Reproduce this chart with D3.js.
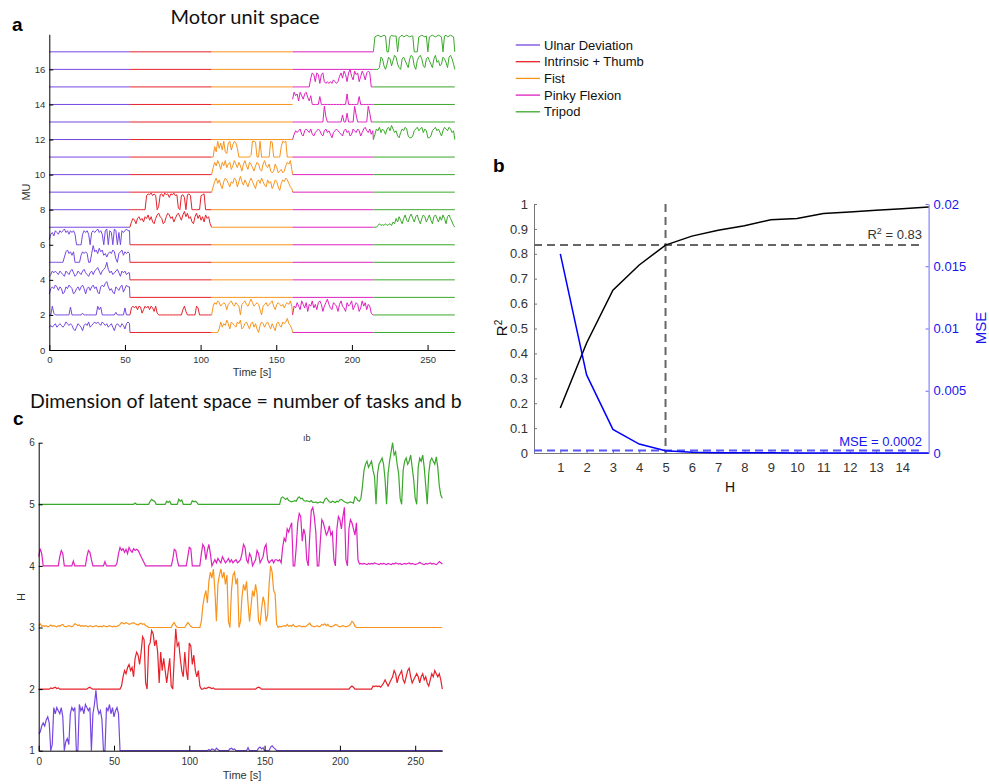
<!DOCTYPE html>
<html><head><meta charset="utf-8">
<script src="https://cdn.jsdelivr.net/npm/d3@7"></script>
<style>
body{margin:0;background:#fff;}
svg{display:block;font-family:"Liberation Sans",Arial,sans-serif;}
</style></head><body>
<svg id="fig" width="989" height="784"></svg>
<script>
// ---------- data ----------
var taskNames = ["Ulnar Deviation","Intrinsic + Thumb","Fist","Pinky Flexion","Tripod"];
var taskColors = ["#7648e0","#e6222b","#f7941d","#dd22c0","#3aa82a"];
var taskEdges = [0, 53.3, 107.3, 160.8, 214.2, 268];   // seconds
var muCount = 17;

// panel a: activity above each MU baseline, 1 s steps from the task start
var mu1U = [.3,.4,.3,.4,.5,.3,.4,.5,.4,.3,.4,.6,.5,.4,.5,.4,.2,.1,.3,.5,.4,.3,.1,.4,.5,.4,.6,.3,.4,.5,.6,.5,.6,.5,.4,.6,.5,.4,.5,.3,.4,.5,.3,.1,.4,.5,.4,.3,.5,.4,.2,.5,.6,.5];
var mu2U = [0,0,.5,.1,0,0,0,0,0,0,0,0,0,0,.45,0,0,0,0,0,0,0,.1,0,0,0,0,0,0,0,0,0,.5,.3,.45,0,0,0,0,0,0,0,0,0,.15,0,0,0,0,0,.4,0,0,0];
var mu3U = [.2,.5,.6,.5,.7,.6,.4,.6,.5,.2,.3,.6,.5,.7,.6,.5,.2,.3,.5,.6,.4,.6,.7,.5,.2,.5,.6,.4,.6,.7,.5,.6,.3,.2,.6,.7,.6,.8,.9,.6,.4,.5,.3,.2,.6,.5,.4,.6,.7,.3,.5,.7,.6,.6];
var mu4U = [.2,.3,.5,.4,.5,.4,.3,.5,.4,.3,.2,.5,.4,.3,.5,.6,.4,.2,.3,.5,.4,.3,.5,.6,.4,.3,.2,.4,.5,.3,.5,.6,.7,.5,.3,.5,.6,.7,1,.6,.4,.5,.3,.4,.5,.6,.4,.2,.5,.4,.5,.3,.4,.4];
var mu5U = [0,0,0,0,0,0,0,0,0,0,.3,.6,.7,.5,.6,.4,.6,0,0,0,0,.4,.6,.5,.6,.5,0,0,.5,.95,.6,.7,.5,.8,.6,.7,.4,.5,.3,.5,.6,.5,.7,.6,.2,0,.5,.6,.7,.4,.6,.5,.6,.5];
var mu6U = [.3,.6,.7,.5,.8,.7,.6,.8,.7,.8,.9,.7,.8,.6,.8,.7,.8,.6,0,0,0,0,.6,.8,.7,.8,.6,0,.7,.8,.7,.8,.9,.7,.8,.6,0,.8,.9,0,.8,.7,0,.9,.8,0,.7,0,.8,.7,.8,.9,.8,.8];
var mu2I = [0,.4,.5,.4,.5,.3,.5,.45,.1,.3,.5,.4,.5,.3,.5,.4,.2,.5,.1,0,0,0,0,0,0,0,0,0,0,0,0,0,0,0,0,.3,.5,.2,0,0,0,0,0,0,.5,.4,0,0,0,0,0,0,0,0];
var mu7I = [0,.3,.5,.4,.2,.5,.6,.4,.5,.3,.6,.5,.7,.4,.6,.3,.2,.5,.7,.8,.6,.5,.2,.3,.6,.8,.7,.5,.6,.3,.5,.7,.8,.6,.4,.7,.9,.6,.8,.5,.6,.3,.2,.6,.8,.5,.7,.4,.6,.3,.7,.5,.6,.2];
var mu8I = [0,0,0,0,0,0,0,0,0,0,0,.8,.9,.85,.95,.8,.9,.8,0,.2,.85,.9,.75,.95,.85,.9,.7,.9,.85,.95,.8,.85,.1,0,.8,.85,.7,0,.85,.9,.8,0,0,0,0,0,0,.8,.85,.9,0];
var mu1F = [0,0,0,0,0,.2,.6,.3,.5,.4,.7,.5,.2,.6,.5,.4,.3,.6,.5,.7,.2,.3,.5,.6,.4,.2,.5,.6,.3,.5,.2,0,.4,.6,.5,.3,.5,.6,.4,.2,.5,.3,.1,.5,.6,.4,.3,.6,.5,.6,.8,.5,.4,.2];
var mu2F = [0,.5,.7,.6,.8,.7,.5,.6,.7,.6,.3,.6,.7,.8,.6,.5,.7,.6,.5,0,.6,.7,.8,.6,.5,.7,.9,.7,.5,.6,.7,.6,.3,0,.5,.6,.7,.5,.6,.7,.8,.5,.3,.6,.7,.6,.5,.6,.4,.6,.7,.6,.8,.5];
var mu9F = [0,.3,.6,.8,.5,.7,.4,.2,.6,.8,.7,.5,.3,.6,.5,.8,.7,.3,.6,.9,.6,.4,.7,.5,.3,.6,.8,.6,.4,.2,.6,.7,.5,.8,.6,.4,.3,.7,.5,.6,.2,.4,.7,.6,.3,.1,.5,.7,.6,.8,.7,.5,.3,.2];
var mu10F = [0,.4,.7,.5,.8,.6,.3,.7,.5,.8,.4,.6,.7,.3,.5,.8,.6,.4,.7,.5,.2,.6,.8,.5,.3,.7,.6,.4,.2,.5,.7,.6,.3,.2,.6,.8,.5,.4,.6,.2,.1,.2,.6,.4,.1,.2,.3,.1,.2,.5,.7,.6,.8,.3];
var mu11F = [0,0,.6,.3,.9,.5,.8,.4,.9,.3,.2,.8,.9,.4,.7,.9,.8,.5,0,0,0,0,0,0,0,0,.1,.9,.9,.85,0,0,.9,0,0,0,0,0,0,.9,.85,0,0,0,0,0,.6,.9,.85,.9,0,0,0,0];
var mu2P = [0,.5,.4,.7,.5,.3,.8,.6,.4,.7,.2,.6,.5,.8,.4,.6,.3,.7,.8,.6,.2,.5,.7,.9,.6,.4,.3,.7,.6,.5,.2,.6,.8,.5,.4,.2,.7,.5,.6,.8,.3,.5,.7,.6,.2,.4,.8,.5,.7,.3,.6,.5,.1,0];
var mu12P = [0,.3,.5,.4,.5,.6,.3,.2,.5,.6,.5,.4,.6,.3,.2,.4,.5,.6,.5,.3,.2,.5,.6,.4,.5,.3,.1,.4,.5,.6,.5,.4,.3,.2,.5,.6,.4,.5,.2,.3,.6,.5,.4,.6,.5,.2,.4,.6,.7,.5,.4,.6,.3,.5];
var mu13P = [0,0,0,0,0,0,0,0,0,0,0,0,0,0,0,0,0,0,0,0,0,.9,.3,0,0,0,0,0,0,0,0,0,0,.4,0,0,.5,0,0,0,0,.9,.4,0,0,0,0,0,0,0,.9,.5,0,0];
var mu14P = [.3,.7,.5,.6,.2,.7,.5,.3,.6,.7,.4,.2,.5,0,0,0,0,0,.45,0,0,0,0,0,0,0,0,0,0,0,0,0,0,0,0,0,.6,0,0,0,0,0,0,0,.45,0,0,0,0,0,0,0,0,0];
var mu15P = [0,0,0,0,0,0,0,0,0,0,0,0,.5,.8,.7,.3,.8,.7,.2,.7,.8,.3,.2,.3,.2,.3,.2,.4,.3,.2,.3,.6,.8,.5,.9,.7,.3,.8,1,.6,.4,.9,.7,.8,.3,.6,.9,.7,.4,.8,.9,.8,0,0];
var mu7T = [0,0,0,.1,.2,.1,.15,.1,.2,.1,.15,.2,.1,.3,.2,.5,.3,.6,.4,.2,.5,.7,.4,.3,.6,.75,.5,.3,.6,.7,.4,.2,.5,.7,.6,.3,.5,.7,.4,.2,.6,.7,.5,.3,.6,.4,.7,.5,.2,.6,.7,.5,.3,.1];
var mu12T = [0,.3,.6,.5,.7,.4,.6,.5,.3,.6,.7,.5,.8,.6,.4,.5,.2,.1,.4,.6,.5,.7,.6,.2,.1,.1,.2,.5,.6,.7,.5,.6,.7,.4,.6,.5,.1,.1,.2,.5,.6,.7,.5,.6,.4,.2,.5,.7,.6,.5,.7,.6,.4,.5];
var mu16T = [0,0,0,0,.1,.7,.6,.2,0,.3,.7,.6,.2,.5,.8,.7,.3,.1,0,.6,.7,.5,.3,.1,.6,.8,.7,.2,0,.5,.7,.8,.6,.2,.1,.6,.7,.5,.3,.1,.6,.8,.4,.5,.2,.3,.7,.6,.4,.1,.7,.8,.6,.3];
var mu17T = [0,.85,.9,.95,.9,.85,.9,.95,.9,0,0,.85,.95,.9,.9,.9,0,.8,.9,.95,.85,.9,.95,.9,.85,.9,.9,0,0,0,.85,.9,.95,.9,.85,.9,0,.85,.9,.95,.9,.85,.9,.95,.9,.85,0,.9,.95,.85,.9,.95,.9,.85];

// [MU, task index, activity]
var muActivity = [
  [1,0,mu1U],[2,0,mu2U],[3,0,mu3U],[4,0,mu4U],[5,0,mu5U],[6,0,mu6U],
  [2,1,mu2I],[7,1,mu7I],[8,1,mu8I],
  [1,2,mu1F],[2,2,mu2F],[9,2,mu9F],[10,2,mu10F],[11,2,mu11F],
  [2,3,mu2P],[12,3,mu12P],[13,3,mu13P],[14,3,mu14P],[15,3,mu15P],
  [7,4,mu7T],[12,4,mu12T],[16,4,mu16T],[17,4,mu17T]
];

// panel b
var hValues = [1,2,3,4,5,6,7,8,9,10,11,12,13,14,15];
var r2Values = [0.181,0.442,0.654,0.755,0.835,0.871,0.895,0.913,0.937,0.942,0.962,0.968,0.975,0.981,0.988];
var mseValues = [0.0160,0.00627,0.0019,0.00072,0.00018,0.00006,0.00003,0.00002,0.00002,0.00001,0.00001,0.00001,0.00001,0.00001,0.00001];
var hChosen = 5, r2Thresh = 0.835, mseThresh = 0.0002;
var r2Label = "0.83", mseLabel = "0.0002";

// panel c: latent activations, [start s, values at 1 s steps] above each baseline
var h1Pieces = [
  [0,[.28,.3,.4,.45,.4,.5,.55,.45,0,.1,.7,.6,.7,.65,.6,.7,.55,0,.15,.2,.1,.6,.7,.65,.7,0,0,.75,.65,.7,.6,.75,.7,.65,.7,0,.6,.75,.98,.7,.6,.65,.5,0,0,.7,.65,.75,.6,.7,.55,.65,.7,.6]],
  [113,[.02,0,.03,.02,0,.04,.02,0,0,0,0,0,0,0,.03,.04,.02,.03,0,0,0,0,0,0,0,0,.05,0,0,0,0,0,0,.04,.06,.03,.05,0,0,0,0,.06,.08,.05,.03,0]]
];
var h2Pieces = [
  [8,[.02,.01,.02,.03,.01,.02,0]],[33,[.02,.03,.01,0]],
  [55,[.05,.2,.3,.25,.35,.4,.3,.35,.2,.5,.6,.55,.4,.6,.85,.8,.1,0,.7,.75,.95,.9,.7,.8,.6,.1,.6,.3,.5,.3,.1,.3,.5,.05,0,.5,.98,.7,.75,.5,.3,.2,.6,.3,.15,.75,.7,.4,.55,.3,.2,.3,.05]],
  [110,[.02,.01,.02,.03,.02,.01,.02,0]],[145,[.02,.03,.02,0]],[207,[.03,.05,.03,0]],
  [222,[.05,.04,.05,.04,.05,.03,.06,.1,.15,.1,.05,.1,.15,.2,.3,.25,.1,.2,.25,.3,.15,.1,.2,.3,.34,.2,.1,.15,.2,.25,.2,.1,.2,.25,.15,.2,.1,.05,.15,.25,.2,.3,.25,.2,.25,.15,0]]
];
var h3Pieces = [
  [0,[.03,.06,.02,.03,.02,.03,.01,.02,.04,.02,.03,.02,.01,.03,.02,.04,.05,.02,.01,.02,.03,.02,.01,.03,.06,.05,.03,.04,.02,.03,.02,.03,.02,.01,.03,.02,.01,.02,.03,.02,.01,.02,.01,.03,.02,.01,.02,.03,.02,.01,.02,.01,.02,.03,.05,.08,.07,.06,.08,.07,.05,.06,.07,.08,.06,.05,.04,.06,.07,.05,.06,.03,.02,0]],
  [89,[.05,.08,.03,0]],[98,[.04,.08,.05,.02,0]],
  [108,[.1,.35,.5,.6,.4,.75,.9,.8,.95,.6,.1,.7,.85,.95,.8,.9,.7,.85,.1,0,.6,.85,.9,.7,.8,0,.1,.5,.7,.6,.75,.4,.1,.35,.6,.5,.7,.55,.1,.05,.3,.5,.4,.1,.2,.7,1,.9,.6,.55,.05]],
  [160,[.02,.01,.02,.03,.02,.05,.02,.03,.02,.05,.02,.01,.02,.03,.02,.01,.02,.01,.03,.05,.07,.03,.02,.01,.02,.03,.01,.02,.05,.04,.06,.03,.05,.02,.01,.02,.03,.05,.04,.02,.01,.02,.03,.02,.01,.02,.03,.05,.1,.08,.02,0]]
];
var h4Pieces = [
  [0,[.15,.28,.2,0,0,0,0,0,0,0,0,0,0,0,.15,.25,.2,0,0,0,0,0,0,.08,0,0,0,0,0,0,0,0,.15,.25,.22,.1,0,0,0,0,0,0,0,0,.07,0,0,0,0,0,0,0,.05,.2,.3,.25,.28,.22,.27,.2,.3,.25,.22,.28,.25,.27,.25,.2,.15,.1,.05,0]],
  [89,[.1,.27,.25,.1,0]],[99,[.15,.3,.28,0]],
  [107,[0,.2,.35,.3,.1,.25,.35,.2,0,.05,.1,.05,.12,.08,.05,.15,.1,.05,.08,.12,.06,.1,.05,.08,.1,.05,.07,.1,.2,.35,.3,.1,.05,.2,.15,0,.05,.1,.25,.2,.05,.1,.15,.3,.35,.1,.05,.08,.1,.05,.1]],
  [158,[.1,.08,.1,.05,.3,.45,.4,.6,.55,.63,.7,0,0,.3,.7,.85,.8,.4,.6,.5,.1,0,.5,.9,.95,.8,.55,0,0,.4,.75,.7,.6,.5,.55,.65,.5,.55,.1,0,.6,.8,.75,.6,.8,.95,.1,0,.6,.75,.7,.6,.5,.7,.1,.03]],
  [214,[.04,.03,.04,.03,.02,.04,.03,.04,.03,.05,.04,.03,.02,.04,.03,.04,.03,.02,.04,.03,.02,.04,.03,.05,.04,.03,.04,.02,.03,.04,.03,.04,.05,.03,.04,.03,.02,.03,.04,.06,.04,.03,.02,.04,.03,.04,.05,.03,.04,.03,.02,.04,.07,.05,.03]]
];
var h5Pieces = [
  [64,[.02,0]],[74,[.05,.08,.06,.05,0]],[85,[.05,.03,.05,0]],[93,[.08,.05,.07,0]],[102,[.06,.04,.05,.03,0]],
  [161,[.1,.12,.1,.08,.1,.06,.05,.04,.05,.06,.05,.1,.12,.09,.1,.06,.05,.06,.05,.04,.06,.03,.03,.04,.02,.03,.04,.03,.02,.08,.1,.07,.04,.03,.05,.04,.03,.05,.04,.07,.08,.06,.04,.03,.02,.03,.04,.03,.02,.12,.1,.06,.05,.1]],
  [215,[.3,.55,.65,.7,.6,.65,.7,.55,.45,0,.5,.65,.7,.75,.65,.4,0,.5,.7,.85,1,.8,.85,.65,.5,.1,0,.55,.7,.75,.65,.7,.8,.6,.4,.1,0,.6,.75,.7,.8,.6,.3,0,.5,.7,.75,.7,.65,.77,.6,.3,.15,.1]]
];
var latentPieces = [h1Pieces,h2Pieces,h3Pieces,h4Pieces,h5Pieces];

// ---------- drawing ----------
var svg = d3.select('#fig');
var textCol = '#333';

function label(g,x,y,txt,size,opts){
  opts = opts||{};
  var t = g.append('text').attr('x',x).attr('y',y).text(txt)
     .style('font-size',size+'px').attr('fill',opts.fill||textCol);
  if(opts.anchor) t.attr('text-anchor',opts.anchor);
  if(opts.weight) t.style('font-weight',opts.weight);
  if(opts.family) t.style('font-family',opts.family);
  if(opts.rotate) t.attr('transform','rotate(-90,'+x+','+y+')');
  return t;
}

function styleAxis(g,col,size){
  g.select('.domain').attr('stroke',col);
  g.selectAll('.tick line').attr('stroke',col);
  g.selectAll('.tick text').attr('fill',textCol).style('font-size',size+'px').style('font-family','"Liberation Sans",Arial,sans-serif');
}

// ---- panel a
var ax = d3.scaleLinear().domain([0,268]).range([49.3,454.8]);
var ay = d3.scaleLinear().domain([0,18]).range([350,34.3]);
var pa = svg.append('g').attr('class','panel-a');
var lineA = d3.line().x(function(d){return ax(d[0])}).y(function(d){return ay(d[1])});

for(var mu=1; mu<=muCount; mu++){
  for(var k=0;k<5;k++){
    var act = muActivity.find(function(a){return a[0]===mu && a[1]===k});
    var t0 = taskEdges[k], t1 = taskEdges[k+1], pts;
    if(act){
      pts = act[2].map(function(v,i){return [t0+i, mu+v]}).filter(function(p){return p[0]<t1});
      pts.push([t1, mu]);
    } else {
      pts = [[t0,mu],[t1,mu]];
    }
    pa.append('path').attr('d',lineA(pts)).attr('fill','none')
      .attr('stroke',taskColors[k]).attr('stroke-width',1);
  }
}

var aAxX = pa.append('g').attr('transform','translate(0,350)')
   .call(d3.axisBottom(ax).tickValues([0,50,100,150,200,250]).tickSizeInner(-5).tickSizeOuter(0).tickPadding(6));
styleAxis(aAxX,'#000',9.5);
var aAxY = pa.append('g').attr('transform','translate(49.3,0)')
   .call(d3.axisLeft(ay).tickValues([0,2,4,6,8,10,12,14,16]).tickSizeInner(-4).tickSizeOuter(0).tickPadding(4));
styleAxis(aAxY,'#000',9.5);
label(pa,252,376,'Time [s]',11,{anchor:'middle'});
label(pa,30,192,'MU',11,{anchor:'middle',rotate:true});
label(svg,245,24,'Motor unit space',20,{anchor:'middle',family:'Lato, "Open Sans", sans-serif',fill:'#111'});
label(svg,12,31,'a',19,{weight:'bold',fill:'#000'});

// legend
var leg = svg.append('g').attr('class','legend');
taskNames.forEach(function(n,i){
  var yy = 45 + i*16.7;
  leg.append('line').attr('x1',515.7).attr('x2',540).attr('y1',yy).attr('y2',yy)
     .attr('stroke',taskColors[i]).attr('stroke-width',1.3);
  label(leg,544,yy+4.6,n,13,{fill:'#111'});
});

// ---- panel b
var bx = d3.scaleLinear().domain([0,15]).range([534,928.6]);
var byL = d3.scaleLinear().domain([0,1]).range([453,204]);
var byR = d3.scaleLinear().domain([0,0.02]).range([453,204]);
var pb = svg.append('g').attr('class','panel-b');

var bAxX = pb.append('g').attr('transform','translate(0,453)')
   .call(d3.axisBottom(bx).tickValues(d3.range(1,15)).tickSizeInner(-3).tickSizeOuter(0).tickPadding(10));
styleAxis(bAxX,'#777',13);
var bAxL = pb.append('g').attr('transform','translate(534,0)')
   .call(d3.axisLeft(byL).tickValues(d3.range(0,11).map(function(d){return d/10}))
     .tickFormat(function(d){return String(+d.toFixed(1))}).tickSizeInner(-3).tickSizeOuter(0).tickPadding(6));
styleAxis(bAxL,'#777',13);
var bAxR = pb.append('g').attr('transform','translate(928.6,0)')
   .call(d3.axisRight(byR).tickValues([0,0.005,0.01,0.015,0.02])
     .tickFormat(function(d){return String(+d.toFixed(3))}).tickSizeInner(-3).tickSizeOuter(0).tickPadding(5));
styleAxis(bAxR,'#6a6aff',13);
bAxR.selectAll('.tick text').attr('fill','#1515f0');

// dashed guides
pb.append('line').attr('x1',bx(0)).attr('x2',bx(14.75)).attr('y1',byL(r2Thresh)).attr('y2',byL(r2Thresh))
  .attr('stroke','#666').attr('stroke-width',2).attr('stroke-dasharray','8,5');
pb.append('line').attr('x1',bx(hChosen)).attr('x2',bx(hChosen)).attr('y1',byL(1)).attr('y2',byL(0))
  .attr('stroke','#666').attr('stroke-width',2).attr('stroke-dasharray','8,5');
pb.append('line').attr('x1',bx(0)).attr('x2',bx(14.75)).attr('y1',byR(mseThresh)).attr('y2',byR(mseThresh))
  .attr('stroke','#5656f2').attr('stroke-width',2).attr('stroke-dasharray','8,5');

var r2Line = d3.line().x(function(d,i){return bx(hValues[i])}).y(function(d){return byL(d)});
var mseLine = d3.line().x(function(d,i){return bx(hValues[i])}).y(function(d){return byR(d)});
pb.append('path').attr('d',r2Line(r2Values)).attr('fill','none').attr('stroke','#000').attr('stroke-width',1.5);
pb.append('path').attr('d',mseLine(mseValues)).attr('fill','none').attr('stroke','#0000ff').attr('stroke-width',1.5);

var r2t = label(pb,922,239,'R',13,{anchor:'end',fill:'#333'});
r2t.append('tspan').attr('baseline-shift','super').style('font-size','9px').text('2');
r2t.append('tspan').text(' = '+r2Label);
label(pb,922,446,'MSE = '+mseLabel,13,{anchor:'end',fill:'#1515f0'});

var r2ax = label(pb,507,328,'R',15,{anchor:'middle',rotate:true,fill:'#111'});
r2ax.append('tspan').attr('baseline-shift','super').style('font-size','10px').text('2');
label(pb,986,328,'MSE',15,{anchor:'middle',rotate:true,fill:'#1515f0'});
label(pb,730,492,'H',14,{anchor:'middle',fill:'#111'});
label(svg,493,172,'b',19,{weight:'bold',fill:'#000'});

// ---- panel c
var cx = d3.scaleLinear().domain([0,268]).range([38.7,442.3]);
var cy = d3.scaleLinear().domain([1,6]).range([750.7,442.7]);
var pc = svg.append('g').attr('class','panel-c');
var lineC = d3.line().x(function(d){return cx(d[0])}).y(function(d){return cy(d[1])});

latentPieces.forEach(function(pieces,k){
  var series = d3.range(0,269).map(function(){return 0});
  pieces.forEach(function(p){
    p[1].forEach(function(v,i){ if(p[0]+i<=268) series[p[0]+i] = v; });
  });
  var pts = series.map(function(v,t){return [t, k+1+v]});
  pc.append('path').attr('d',lineC(pts)).attr('fill','none')
    .attr('stroke',taskColors[k]).attr('stroke-width',1.2);
});

var cAxX = pc.append('g').attr('transform','translate(0,750.7)')
   .call(d3.axisBottom(cx).tickValues([0,50,100,150,200,250]).tickSizeInner(-5).tickSizeOuter(0).tickPadding(7));
styleAxis(cAxX,'#000',10);
var cAxY = pc.append('g').attr('transform','translate(38.7,0)')
   .call(d3.axisLeft(cy).tickValues([1,2,3,4,5,6]).tickFormat(d3.format('d')).tickSizeInner(-4).tickSizeOuter(0).tickPadding(4));
styleAxis(cAxY,'#000',10);
label(pc,242,779,'Time [s]',11,{anchor:'middle'});
label(pc,25,597,'H',11,{anchor:'middle',rotate:true});
label(pc,303,441,'ıb',9,{});
label(svg,30,408,'Dimension of latent space = number of tasks and b',19.5,{family:'Lato, "Open Sans", sans-serif',fill:'#111'});
label(svg,13,425,'c',19,{weight:'bold',fill:'#000'});
</script></body></html>
